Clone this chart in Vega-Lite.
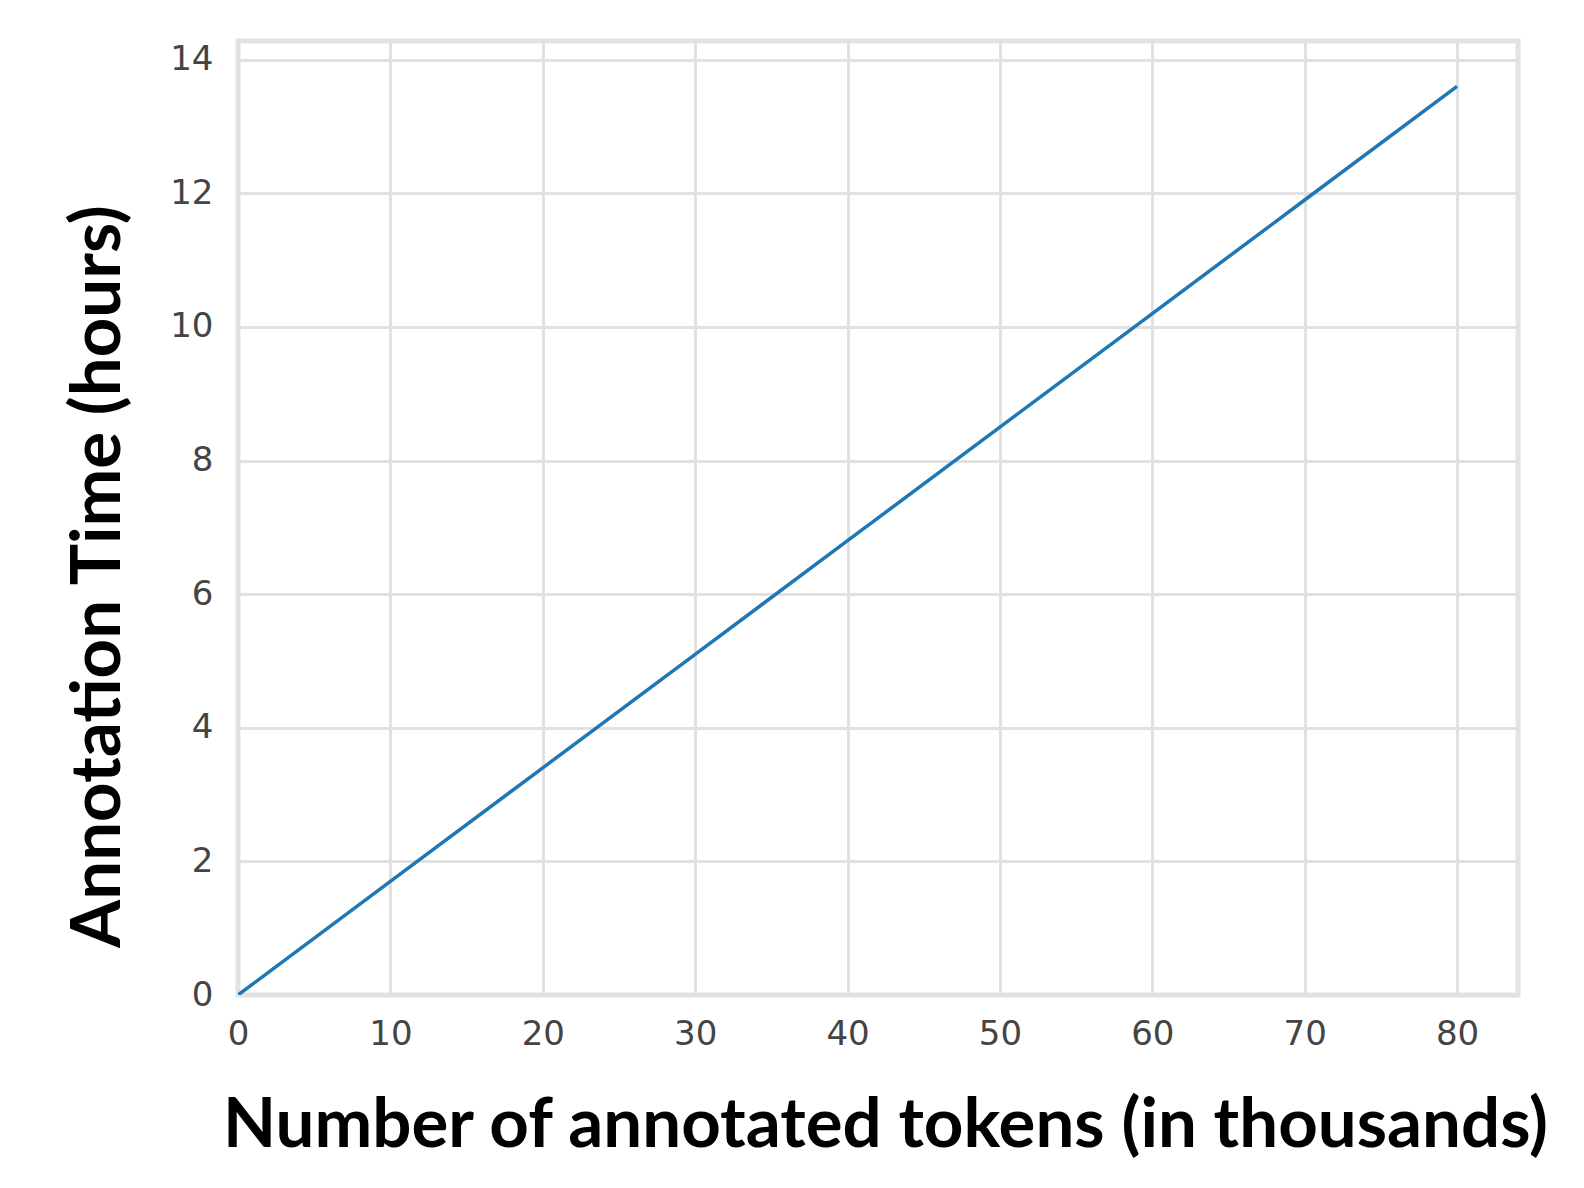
{
  "$schema": "https://vega.github.io/schema/vega-lite/v6.json",
  "width": 1280,
  "height": 954,
  "autosize": "none",
  "padding": {"left": 238, "top": 41, "right": 66, "bottom": 193},
  "background": "white",
  "config": {
    "view": {"stroke": "#e3e3e3", "strokeWidth": 5},
    "axis": {
      "grid": true,
      "gridColor": "#e1e1e1",
      "gridWidth": 3,
      "domain": false,
      "ticks": false,
      "labelFont": "DejaVu Sans",
      "labelFontSize": 34,
      "labelColor": "#444444",
      "titleFont": "Lato",
      "titleFontWeight": "bold",
      "titleFontSize": 69,
      "titleColor": "#000000"
    }
  },
  "data": {
    "values": [
      {"tokens": 0, "hours": 0},
      {"tokens": 10, "hours": 1.7},
      {"tokens": 20, "hours": 3.4},
      {"tokens": 30, "hours": 5.1},
      {"tokens": 40, "hours": 6.8},
      {"tokens": 50, "hours": 8.5},
      {"tokens": 60, "hours": 10.2},
      {"tokens": 70, "hours": 11.9},
      {"tokens": 80, "hours": 13.6}
    ]
  },
  "mark": {"type": "line", "color": "#1f77b4", "strokeWidth": 3.5, "clip": true},
  "encoding": {
    "x": {
      "field": "tokens",
      "type": "quantitative",
      "scale": {"domain": [0, 84], "nice": false, "zero": false},
      "axis": {
        "values": [0, 10, 20, 30, 40, 50, 60, 70, 80],
        "title": "Number of annotated tokens (in thousands)",
        "labelPadding": 22,
        "titlePadding": 40,
        "titleX": 647,
        "labelFlush": false
      }
    },
    "y": {
      "field": "hours",
      "type": "quantitative",
      "scale": {"domain": [0, 14.28], "nice": false, "zero": false},
      "axis": {
        "values": [0, 2, 4, 6, 8, 10, 12, 14],
        "title": "Annotation Time (hours)",
        "labelPadding": 25,
        "titlePadding": 36,
        "titleY": 535,
        "labelFlush": false
      }
    }
  }
}
